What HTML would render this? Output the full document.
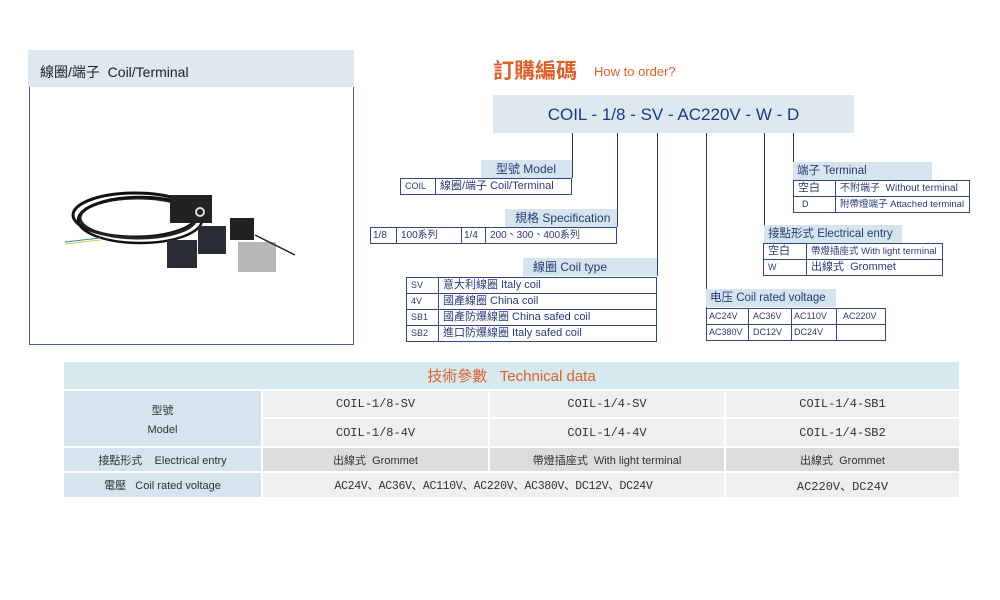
<!DOCTYPE html>
<html><head><meta charset="utf-8"><style>
*{margin:0;padding:0;box-sizing:border-box}
body{width:1000px;height:600px;background:#fff;position:relative;overflow:hidden;font-family:"Liberation Sans","Noto Sans CJK TC",sans-serif;color:#2a3a7a}
.a{position:absolute}
.lbl{position:absolute;background:#d6e4ee;font-size:12px;line-height:18px;padding-left:4px;color:#2a3a7a}
.vl{position:absolute;width:1px;background:#2a3a7a}
table.t{position:absolute;border-collapse:collapse;font-size:11px;color:#2a3a7a}
table.t td{border:1.5px solid #2f4690;height:16px;padding:0 4px;white-space:nowrap;line-height:13px}
.td{position:absolute;font-size:12px;color:#333;text-align:center;display:flex;align-items:center;justify-content:center}
.mono{font-family:"Liberation Mono",monospace;font-size:12px}
</style></head><body>
<!-- left panel -->
<div class="a" style="left:28px;top:50px;width:326px;height:37px;background:#dde8f0"></div>
<div class="a" style="left:40px;top:62px;font-size:14px;color:#222">線圈/端子&nbsp;&nbsp;Coil/Terminal</div>
<div class="a" style="left:29px;top:87px;width:325px;height:258px;border:1px solid #4a5a9a;border-top:none"></div>
<svg class="a" style="left:60px;top:180px" width="240" height="110">
<ellipse cx="75" cy="35" rx="62" ry="22" fill="none" stroke="#111" stroke-width="3"/>
<ellipse cx="78" cy="38" rx="58" ry="20" fill="none" stroke="#222" stroke-width="3"/>
<ellipse cx="80" cy="40" rx="62" ry="23" fill="none" stroke="#111" stroke-width="2.5"/>
<path d="M5 62 L40 58" stroke="#48a" stroke-width="1"/><path d="M5 64 L40 60" stroke="#cc4" stroke-width="1"/>
<rect x="110" y="15" width="42" height="28" fill="#222"/><circle cx="140" cy="32" r="5" fill="#ddd"/><circle cx="140" cy="32" r="3" fill="#222"/>
<rect x="107" y="60" width="30" height="28" fill="#2a2d33"/>
<rect x="138" y="46" width="28" height="28" fill="#2a2d33"/>
<rect x="170" y="38" width="24" height="22" fill="#222"/>
<rect x="178" y="62" width="38" height="30" fill="#999" opacity="0.7"/>
<path d="M195 55 L235 75" stroke="#222" stroke-width="1.5"/>
</svg>
<!-- order -->
<div class="a" style="left:493px;top:55px;font-size:21px;color:#e0602a;font-weight:bold">訂購編碼</div>
<div class="a" style="left:594px;top:64px;font-size:13px;color:#e0602a">How to order?</div>
<div class="a" style="left:493px;top:95px;width:361px;height:38px;background:#dde8f0;font-size:17px;color:#1a3a8a;text-align:center;line-height:40px">COIL - 1/8 - SV - AC220V - W - D</div>
<div class="vl" style="left:572px;top:133px;height:45px"></div>
<div class="vl" style="left:617px;top:133px;height:94px"></div>
<div class="vl" style="left:657px;top:133px;height:143px"></div>
<div class="vl" style="left:706px;top:133px;height:175px"></div>
<div class="vl" style="left:764px;top:133px;height:110px"></div>
<div class="vl" style="left:793px;top:133px;height:47px"></div>

<div class="lbl" style="left:481px;top:160px;width:91px;text-align:right;padding-right:16px">型號 Model</div>
<table class="t" style="left:400px;top:178px;width:172px"><tr><td style="width:35px;font-size:9px">COIL</td><td>線圈/端子 Coil/Terminal</td></tr></table>

<div class="lbl" style="left:505px;top:209px;width:112px;padding-left:10px">規格 Specification</div>
<table class="t" style="left:370px;top:227px;width:247px;font-size:10px"><tr><td style="width:26px;padding:0 2px">1/8</td><td style="width:65px">100系列</td><td style="width:24px;padding:0 2px">1/4</td><td>200、300、400系列</td></tr></table>

<div class="lbl" style="left:523px;top:258px;width:134px;padding-left:10px">線圈 Coil type</div>
<table class="t" style="left:406px;top:277px;width:251px"><tr><td style="width:32px;font-size:9px">SV</td><td>意大利線圈 Italy coil</td></tr><tr><td style="font-size:9px">4V</td><td>國產線圈 China coil</td></tr><tr><td style="font-size:9px">SB1</td><td>國產防爆線圈 China safed coil</td></tr><tr><td style="font-size:9px">SB2</td><td>進口防爆線圈 Italy safed coil</td></tr></table>

<div class="lbl" style="left:706px;top:289px;width:130px;font-size:11.5px">电压 Coil rated voltage</div>
<table class="t" style="left:706px;top:308px;width:180px;font-size:9px"><tr><td style="width:42px;padding:0 2px">AC24V</td><td style="width:43px;padding:0 4px">AC36V</td><td style="width:45px;padding:0 2px">AC110V</td><td style="padding:0 6px">AC220V</td></tr><tr><td style="padding:0 2px">AC380V</td><td>DC12V</td><td style="padding:0 2px">DC24V</td><td></td></tr></table>

<div class="lbl" style="left:764px;top:225px;width:138px;font-size:11.5px">接點形式 Electrical entry</div>
<table class="t" style="left:763px;top:243px;width:180px"><tr><td style="width:43px">空白</td><td style="font-size:9.5px">帶燈插座式 With light terminal</td></tr><tr><td style="font-size:9px">W</td><td>出線式&nbsp; Grommet</td></tr></table>

<div class="lbl" style="left:793px;top:162px;width:139px;font-size:11.5px">端子 Terminal</div>
<table class="t" style="left:793px;top:180px;width:177px;font-size:10px"><tr><td style="width:42px;font-size:11px">空白</td><td>不附端子&nbsp; Without terminal</td></tr><tr><td style="font-size:9px;padding-left:8px">D</td><td style="font-size:9.5px">附帶燈端子 Attached terminal</td></tr></table>

<!-- tech table -->
<div class="a" style="left:64px;top:362px;width:895px;height:27px;background:#d5e9ef;text-align:center;font-size:15px;color:#e0602a;line-height:29px">技術參數&nbsp;&nbsp;&nbsp;Technical data</div>
<div class="td" style="left:64px;top:391px;width:197px;height:55px;background:#d6e4ee;flex-direction:column;font-size:11px"><div>型號</div><div style="margin-top:6px">Model</div></div>
<div class="td" style="left:64px;top:448px;width:197px;height:23px;background:#d6e4ee;font-size:11px">接點形式&nbsp;&nbsp;&nbsp;&nbsp;Electrical entry</div>
<div class="td" style="left:64px;top:473px;width:197px;height:24px;background:#d6e4ee;font-size:11px">電壓&nbsp;&nbsp;&nbsp;Coil rated voltage</div>

<div class="td mono" style="left:263px;top:391px;width:225px;height:26px;background:#eef0ef">COIL-1/8-SV</div>
<div class="td mono" style="left:490px;top:391px;width:234px;height:26px;background:#eef0ef">COIL-1/4-SV</div>
<div class="td mono" style="left:726px;top:391px;width:233px;height:26px;background:#eef0ef">COIL-1/4-SB1</div>
<div class="td mono" style="left:263px;top:419px;width:225px;height:27px;background:#eef0ef">COIL-1/8-4V</div>
<div class="td mono" style="left:490px;top:419px;width:234px;height:27px;background:#eef0ef">COIL-1/4-4V</div>
<div class="td mono" style="left:726px;top:419px;width:233px;height:27px;background:#eef0ef">COIL-1/4-SB2</div>
<div class="td" style="left:263px;top:448px;width:225px;height:23px;background:#dcdcdc;font-size:11px">出線式&nbsp; Grommet</div>
<div class="td" style="left:490px;top:448px;width:234px;height:23px;background:#dcdcdc;font-size:11px">帶燈插座式&nbsp; With light terminal</div>
<div class="td" style="left:726px;top:448px;width:233px;height:23px;background:#dcdcdc;font-size:11px">出線式&nbsp; Grommet</div>
<div class="td mono" style="left:263px;top:473px;width:461px;height:24px;background:#eef0ef;font-size:11.5px;letter-spacing:-0.3px">AC24V、AC36V、AC110V、AC220V、AC380V、DC12V、DC24V</div>
<div class="td mono" style="left:726px;top:473px;width:233px;height:24px;background:#eef0ef">AC220V、DC24V</div>
</body></html>
